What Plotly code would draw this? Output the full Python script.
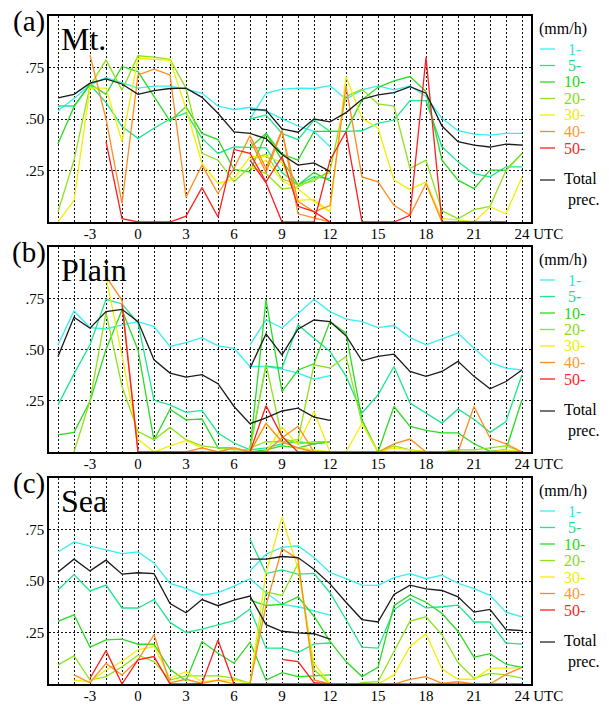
import plotly.graph_objects as go

# ---------------- data ----------------
hours_first = [-5, -4, -3, -2, -1, 0, 1, 2, 3, 4, 5, 6, 7, 8, 9, 10, 11, 12]
hours_second = [7, 8, 9, 10, 11, 12, 13, 14, 15, 16, 17, 18, 19, 20, 21, 22, 23, 24]
bins = ["1-", "5-", "10-", "20-", "30-", "40-", "50-", "Total"]
ytick_vals = [0.25, 0.5, 0.75]
ytick_labels = [".25", ".50", ".75"]

# (a) Mt.
mt_1_s1 = [0.54, 0.60, 0.666, 0.70, 0.677, 0.65, 0.66, 0.66, 0.645, 0.625, 0.563, 0.545, 0.557, 0.538, 0.502, 0.466, 0.44, 0.365]
mt_5_s1 = [0.563, 0.563, 0.666, 0.58, 0.463, 0.406, 0.455, 0.50, 0.53, 0.406, 0.333, 0.365, 0.362, 0.36, 0.24, 0.18, 0.22, 0.21]
mt_10_s1 = [0.38, 0.56, 0.67, 0.62, 0.755, 0.73, 0.61, 0.49, 0.56, 0.43, 0.40, 0.255, 0.243, 0.43, 0.30, 0.18, 0.24, 0.20]
mt_20_s1 = [0.05, 0.30, 0.66, 0.787, 0.64, 0.807, 0.80, 0.79, 0.65, 0.333, 0.30, 0.195, 0.268, 0.235, 0.16, 0.17, 0.21, 0.24]
mt_30_s1 = [0.0, 0.105, 0.65, 0.65, 0.39, 0.795, 0.79, 0.785, 0.55, 0.284, 0.187, 0.21, 0.317, 0.317, 0.29, 0.105, 0.11, 0.05]
mt_40_s1 = [None, None, 0.81, 0.50, 0.09, 0.714, 0.742, 0.714, 0.12, 0.276, 0.138, 0.26, 0.42, 0.26, 0.446, 0.04, 0.02, 0.0]
mt_50_s1 = [None, None, None, 0.39, 0.016, 0.0, 0.0, 0.0, 0.028, 0.167, 0.024, 0.352, 0.333, 0.195, 0.317, 0.076, 0.05, 0.0]
mt_tot_s1 = [0.602, 0.62, 0.674, 0.695, 0.67, 0.62, 0.638, 0.648, 0.65, 0.605, 0.528, 0.437, 0.43, 0.405, 0.328, 0.276, 0.287, 0.246]

mt_1_s2 = [0.50, 0.625, 0.645, 0.65, 0.648, 0.662, 0.596, 0.641, 0.661, 0.641, 0.661, 0.609, 0.503, 0.443, 0.427, 0.422, 0.43, 0.43]
mt_5_s2 = [0.50, 0.52, 0.43, 0.40, 0.495, 0.44, 0.44, 0.443, 0.479, 0.495, 0.589, 0.589, 0.365, 0.292, 0.235, 0.219, 0.268, 0.268]
mt_10_s2 = [0.36, 0.43, 0.33, 0.30, 0.44, 0.44, 0.44, 0.593, 0.654, 0.685, 0.706, 0.633, 0.30, 0.203, 0.162, 0.252, 0.252, 0.333]
mt_20_s2 = [0.30, 0.33, 0.21, 0.18, 0.20, 0.25, 0.609, 0.644, 0.573, 0.563, 0.26, 0.30, 0.054, 0.016, 0.06, 0.076, 0.25, 0.333]
mt_30_s2 = [0.26, 0.30, 0.20, 0.16, 0.10, 0.05, 0.706, 0.503, 0.455, 0.203, 0.157, 0.195, 0.016, 0.01, 0.0, 0.073, 0.04, 0.219]
mt_40_s2 = [0.40, 0.24, 0.44, 0.10, 0.05, 0.08, 0.66, 0.219, 0.195, 0.081, 0.032, 0.187, 0.0, 0.0, 0.0, 0.0, 0.0, None]
mt_50_s2 = [0.30, 0.19, 0.0, 0.0, 0.0, 0.30, 0.438, 0.0, 0.0, 0.0, 0.032, 0.80, 0.0, 0.0, 0.0, 0.0, 0.0, None]
mt_tot_s2 = [0.546, 0.543, 0.452, 0.436, 0.50, 0.486, 0.531, 0.596, 0.617, 0.628, 0.657, 0.625, 0.466, 0.39, 0.373, 0.364, 0.378, 0.373]

# (b) Plain
pl_1_s1 = [0.523, 0.688, 0.607, 0.60, 0.62, 0.636, 0.612, 0.515, 0.534, 0.558, 0.518, 0.506, 0.417, 0.417, 0.404, 0.385, 0.355, 0.373]
pl_5_s1 = [0.23, 0.381, 0.523, 0.745, 0.722, 0.63, 0.252, 0.23, 0.193, 0.203, 0.093, 0.044, 0.011, 0.02, 0.04, 0.05, 0.04, 0.05]
pl_10_s1 = [0.084, 0.096, 0.247, 0.50, 0.693, 0.498, 0.057, 0.209, 0.157, 0.161, 0.02, 0.02, 0.0, 0.01, 0.03, 0.02, 0.04, 0.05]
pl_20_s1 = [None, 0.0, 0.25, 0.68, 0.32, 0.10, 0.06, 0.12, 0.06, 0.03, 0.02, 0.01, 0.01, 0.43, 0.07, 0.04, 0.05, 0.05]
pl_30_s1 = [None, None, None, 0.855, 0.47, 0.063, 0.0, 0.03, 0.055, 0.02, 0.0, 0.02, 0.0, 0.14, 0.05, 0.02, 0.01, 0.0]
pl_40_s1 = [None, None, None, 0.855, 0.74, 0.0, 0.0, 0.0, 0.0, 0.02, 0.0, 0.02, 0.0, 0.14, 0.05, 0.02, 0.0, 0.0]
pl_50_s1 = [None, None, None, None, 0.72, 0.0, 0.0, 0.0, 0.0, 0.0, 0.0, 0.0, 0.0, 0.226, 0.076, 0.0, 0.0, 0.0]
pl_tot_s1 = [0.466, 0.657, 0.604, 0.685, 0.696, 0.636, 0.45, 0.385, 0.365, 0.377, 0.333, 0.222, 0.138, 0.166, 0.20, 0.214, 0.17, 0.154]

pl_1_s2 = [0.523, 0.645, 0.605, 0.677, 0.745, 0.685, 0.648, 0.636, 0.607, 0.617, 0.558, 0.523, 0.55, 0.58, 0.506, 0.437, 0.409, 0.40]
pl_5_s2 = [0.02, 0.42, 0.41, 0.62, 0.555, 0.49, 0.37, 0.19, 0.279, 0.417, 0.239, 0.19, 0.141, 0.209, 0.16, 0.096, 0.149, 0.377]
pl_10_s2 = [0.01, 0.742, 0.295, 0.40, 0.43, 0.636, 0.58, 0.157, 0.0, 0.222, 0.125, 0.106, 0.093, 0.093, 0.04, 0.003, 0.011, 0.255]
pl_20_s2 = [0.02, 0.05, 0.05, 0.06, 0.425, 0.41, 0.466, 0.14, 0.0, 0.03, 0.01, 0.0, 0.0, 0.01, 0.01, 0.02, 0.03, 0.0]
pl_30_s2 = [0.0, 0.0, 0.12, 0.036, 0.198, 0.0, 0.0, 0.14, 0.0, 0.02, 0.01, 0.0, 0.0, 0.0, 0.0, 0.0, 0.01, 0.0]
pl_40_s2 = [0.0, 0.0, 0.07, 0.125, 0.0, 0.0, 0.0, 0.0, 0.0, 0.04, 0.063, 0.0, 0.0, 0.0, 0.222, 0.068, 0.04, 0.0]
pl_50_s2 = [0.0, 0.0, 0.0, 0.0, 0.0, 0.0, 0.0, 0.0, 0.0, 0.0, 0.0, 0.0, 0.0, 0.0, 0.0, 0.0, 0.0, 0.0]
pl_tot_s2 = [0.409, 0.576, 0.474, 0.599, 0.644, 0.636, 0.567, 0.445, 0.466, 0.477, 0.393, 0.369, 0.393, 0.442, 0.369, 0.308, 0.344, 0.40]

# (c) Sea
sea_1_s1 = [0.641, 0.69, 0.669, 0.65, 0.633, 0.641, 0.588, 0.488, 0.464, 0.431, 0.444, 0.475, 0.511, 0.443, 0.386, 0.375, 0.353, 0.334]
sea_5_s1 = [0.456, 0.531, 0.452, 0.48, 0.369, 0.369, 0.41, 0.299, 0.25, 0.266, 0.287, 0.308, 0.364, 0.174, 0.174, 0.153, 0.195, 0.199]
sea_10_s1 = [0.304, 0.336, 0.179, 0.214, 0.218, 0.193, 0.193, 0.071, 0.016, 0.206, 0.149, 0.101, 0.203, 0.019, 0.055, 0.036, 0.039, 0.044]
sea_20_s1 = [0.093, 0.136, 0.019, 0.036, 0.084, 0.14, 0.109, 0.019, 0.039, 0.039, 0.039, 0.028, 0.003, 0.447, 0.43, 0.585, 0.07, 0.0]
sea_30_s1 = [None, 0.019, 0.011, 0.068, 0.109, 0.166, 0.182, 0.028, 0.06, 0.011, 0.019, 0.019, 0.003, 0.0, 0.0, 0.0, 0.0, 0.0]
sea_40_s1 = [None, 0.044, 0.006, 0.10, 0.044, 0.117, 0.239, 0.006, 0.023, 0.003, 0.019, 0.0, 0.0, 0.0, 0.0, 0.0, 0.0, 0.0]
sea_50_s1 = [None, None, 0.028, 0.162, 0.0, 0.117, 0.133, 0.0, 0.0, 0.003, 0.214, 0.0, 0.0, 0.0, 0.0, 0.0, 0.0, 0.0]
sea_tot_s1 = [0.544, 0.606, 0.549, 0.601, 0.533, 0.54, 0.536, 0.391, 0.346, 0.41, 0.38, 0.407, 0.427, 0.288, 0.256, 0.248, 0.244, 0.218]

sea_1_s2 = [0.549, 0.63, 0.663, 0.671, 0.614, 0.541, 0.511, 0.48, 0.479, 0.516, 0.536, 0.511, 0.528, 0.489, 0.463, 0.43, 0.349, 0.326]
sea_5_s2 = [0.704, 0.536, 0.554, 0.533, 0.537, 0.443, 0.313, 0.179, 0.174, 0.36, 0.414, 0.37, 0.375, 0.383, 0.301, 0.301, 0.199, 0.194]
sea_10_s2 = [0.407, 0.381, 0.386, 0.423, 0.329, 0.207, 0.109, 0.036, 0.081, 0.38, 0.432, 0.397, 0.342, 0.256, 0.13, 0.147, 0.096, 0.081]
sea_20_s2 = [0.0, 0.0, 0.0, 0.0, 0.0, -0.005, -0.015, 0.007, 0.011, 0.158, 0.305, 0.326, 0.239, 0.104, 0.028, 0.052, 0.044, 0.028]
sea_30_s2 = [0.0, 0.54, 0.81, 0.56, 0.1, 0.0, 0.0, 0.0, 0.0, 0.044, 0.182, 0.244, 0.072, 0.023, 0.023, 0.077, 0.077, 0.081]
sea_40_s2 = [0.0, 0.381, 0.658, 0.606, 0.02, 0.0, 0.0, 0.0, 0.0, 0.0, 0.023, 0.036, 0.003, 0.011, 0.0, 0.0, 0.047, 0.081]
sea_50_s2 = [None, None, 0.12, 0.109, 0.007, 0.0, 0.0, 0.0, 0.0, 0.0, 0.0, 0.0, 0.0, 0.0, 0.0, 0.0, 0.0, 0.0]
sea_tot_s2 = [0.606, 0.606, 0.619, 0.614, 0.557, 0.486, 0.397, 0.313, 0.301, 0.435, 0.48, 0.462, 0.454, 0.423, 0.349, 0.362, 0.264, 0.259]

panel_series = [
    [(mt_1_s1, mt_1_s2), (mt_5_s1, mt_5_s2), (mt_10_s1, mt_10_s2), (mt_20_s1, mt_20_s2),
     (mt_30_s1, mt_30_s2), (mt_40_s1, mt_40_s2), (mt_50_s1, mt_50_s2), (mt_tot_s1, mt_tot_s2)],
    [(pl_1_s1, pl_1_s2), (pl_5_s1, pl_5_s2), (pl_10_s1, pl_10_s2), (pl_20_s1, pl_20_s2),
     (pl_30_s1, pl_30_s2), (pl_40_s1, pl_40_s2), (pl_50_s1, pl_50_s2), (pl_tot_s1, pl_tot_s2)],
    [(sea_1_s1, sea_1_s2), (sea_5_s1, sea_5_s2), (sea_10_s1, sea_10_s2), (sea_20_s1, sea_20_s2),
     (sea_30_s1, sea_30_s2), (sea_40_s1, sea_40_s2), (sea_50_s1, sea_50_s2), (sea_tot_s1, sea_tot_s2)],
]
panel_letters = ["(a)", "(b)", "(c)"]
panel_names = ["Mt.", "Plain", "Sea"]

# ---------------- styling ----------------
line_colors = ["#36EEF2", "#1EE68C", "#2ADC22", "#8EE41A", "#F4EE00", "#FF8C1E", "#FF1E1E", "#1A1A1A"]
text_colors = ["#30E0E8", "#1ED882", "#22D811", "#88DC11", "#EEEE00", "#FF9933", "#FF2222", "#111111"]
FONT = "Liberation Serif"
NB = "\u00a0"

W, H = 609, 705
L, R, T, B = 49, 531, 16, 684
panel_px = [(16, 222), (247, 452), (478, 684)]


def pyp(p):
    return (B - p) / (B - T)


def pxp(p):
    return (p - L) / (R - L)


fig = go.Figure()

for i, series in enumerate(panel_series):
    xa = "x" if i == 0 else f"x{i+1}"
    ya = "y" if i == 0 else f"y{i+1}"
    for j, (s1, s2) in enumerate(series):
        for xs, ys in ((hours_first, s1), (hours_second, s2)):
            fig.add_trace(go.Scatter(
                x=xs, y=ys, mode="lines", xaxis=xa, yaxis=ya,
                line=dict(color=line_colors[j], width=1.3),
                showlegend=False, hoverinfo="skip", connectgaps=False))

tickvals = list(range(-5, 25))
ticktext = []
for h in tickvals:
    if h == 24:
        ticktext.append(NB * 9 + "24 UTC")
    elif h % 3 == 0 and h >= -3:
        ticktext.append(str(h))
    else:
        ticktext.append("")

layout = dict(
    width=W, height=H, margin=dict(l=L, r=W - R, t=T, b=H - B, autoexpand=False),
    paper_bgcolor="white", plot_bgcolor="white",
    font=dict(family=FONT, size=15, color="black"),
    showlegend=False, hovermode=False,
)
annotations = []
shapes = []
for i in range(3):
    top, bot = panel_px[i]
    xk = "xaxis" if i == 0 else f"xaxis{i+1}"
    yk = "yaxis" if i == 0 else f"yaxis{i+1}"
    ya = "y" if i == 0 else f"y{i+1}"
    layout[xk] = dict(
        domain=[0, 1], anchor=ya, range=[-5.5625, 24.5625],
        tickmode="array", tickvals=tickvals, ticktext=ticktext,
        tickangle=0, automargin=False,
        showgrid=True, gridcolor="#111", gridwidth=1, griddash="2px,2px",
        showline=True, mirror=True, linecolor="black", linewidth=1.5,
        ticks="", zeroline=False, tickfont=dict(family=FONT, size=15),
        ticklabelstandoff=-3,
    )
    layout[yk] = dict(
        domain=[pyp(bot), pyp(top)], anchor="x" if i == 0 else f"x{i+1}",
        range=[0, 1], tickmode="array", tickvals=ytick_vals, ticktext=ytick_labels,
        tickangle=0, automargin=False,
        showgrid=True, gridcolor="#111", gridwidth=1, griddash="2px,2px",
        showline=True, mirror=True, linecolor="black", linewidth=1.5,
        ticks="", zeroline=False, tickfont=dict(family=FONT, size=15),
    )
    off = top - 16
    annotations.append(dict(text=panel_letters[i], x=pxp(29), y=pyp(21 + off), xref="paper", yref="paper",
                            showarrow=False, font=dict(family=FONT, size=29), xanchor="center", yanchor="middle"))
    annotations.append(dict(text=panel_names[i], x=pxp(59), y=pyp(39 + off), xref="paper", yref="paper",
                            showarrow=False, font=dict(family=FONT, size=32), xanchor="left", yanchor="middle"))
    annotations.append(dict(text="(mm/h)", x=pxp(563), y=pyp(29 + off), xref="paper", yref="paper",
                            showarrow=False, font=dict(family=FONT, size=16), xanchor="center", yanchor="middle"))
    ys_leg = [49, 65.5, 82, 98.5, 115, 131.5, 148]
    for j in range(7):
        yy = ys_leg[j] + off
        shapes.append(dict(type="line", xref="paper", yref="paper", x0=pxp(540), x1=pxp(555),
                           y0=pyp(yy), y1=pyp(yy), line=dict(color=line_colors[j], width=1.3)))
        annotations.append(dict(text=bins[j], x=pxp(574), y=pyp(yy), xref="paper", yref="paper",
                                showarrow=False, font=dict(family=FONT, size=16, color=text_colors[j]),
                                xanchor="center", yanchor="middle"))
    shapes.append(dict(type="line", xref="paper", yref="paper", x0=pxp(540), x1=pxp(555),
                       y0=pyp(180 + off), y1=pyp(180 + off), line=dict(color="#444", width=1.5)))
    annotations.append(dict(text="Total<br>" + NB + "prec.", x=pxp(562), y=pyp(189 + off),
                            xref="paper", yref="paper", align="left",
                            showarrow=False, font=dict(family=FONT, size=16), xanchor="left", yanchor="middle"))

layout["annotations"] = annotations
layout["shapes"] = shapes
fig.update_layout(**layout)
fig.write_html(
    "out.html",
    config={"displayModeBar": False},
    post_script="document.body.style.margin='0px';document.body.style.overflow='hidden';",
)
